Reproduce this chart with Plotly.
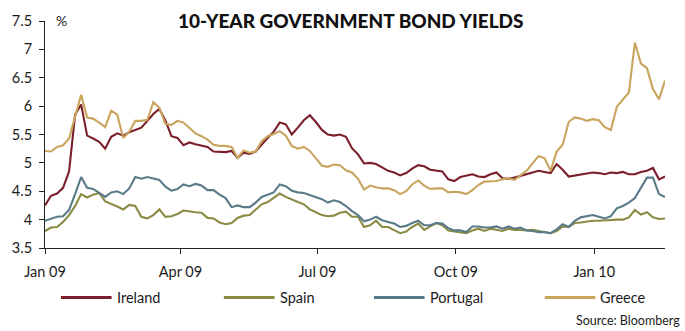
import pandas as pd
import plotly.graph_objects as go

# ---- data (4-day sampling, Jan 1 2009 - Feb 17 2010) ----
dates = pd.date_range("2009-01-01", "2010-02-17", freq="4D")

ireland = [4.25, 4.42, 4.46, 4.56, 4.85, 5.85, 6.03, 5.48, 5.43, 5.37,
           5.25, 5.46, 5.52, 5.48, 5.54, 5.58, 5.62, 5.74, 5.86, 5.95,
           5.75, 5.47, 5.44, 5.31, 5.36, 5.33, 5.30, 5.28, 5.20, 5.19,
           5.19, 5.21, 5.09, 5.18, 5.16, 5.20, 5.33, 5.44, 5.55, 5.71,
           5.68, 5.50, 5.62, 5.75, 5.84, 5.72, 5.58, 5.50, 5.48, 5.50,
           5.46, 5.26, 5.15, 4.99, 5.00, 4.98, 4.92, 4.86, 4.83, 4.78,
           4.82, 4.90, 4.96, 4.94, 4.88, 4.87, 4.85, 4.71, 4.68, 4.75,
           4.78, 4.80, 4.76, 4.75, 4.80, 4.83, 4.73, 4.72, 4.74, 4.77,
           4.80, 4.83, 4.86, 4.84, 4.82, 4.98, 4.88, 4.76, 4.78, 4.79,
           4.81, 4.83, 4.82, 4.80, 4.83, 4.82, 4.84, 4.80, 4.80, 4.84,
           4.86, 4.91, 4.71, 4.76]

spain = [3.80, 3.86, 3.87, 3.96, 4.08, 4.24, 4.45, 4.39, 4.44, 4.47,
         4.32, 4.28, 4.23, 4.18, 4.26, 4.24, 4.05, 4.02, 4.08, 4.18,
         4.05, 4.06, 4.10, 4.16, 4.14, 4.13, 4.12, 4.03, 4.02, 3.95,
         3.92, 3.94, 4.03, 4.07, 4.08, 4.17, 4.27, 4.31, 4.38, 4.46,
         4.40, 4.35, 4.31, 4.27, 4.18, 4.13, 4.08, 4.06, 4.07, 4.12,
         4.14, 4.05, 4.05, 3.87, 3.90, 3.98, 3.87, 3.87, 3.81, 3.76,
         3.79, 3.87, 3.93, 3.82, 3.88, 3.94, 3.90, 3.81, 3.79, 3.77,
         3.76, 3.81, 3.84, 3.80, 3.84, 3.82, 3.80, 3.84, 3.82, 3.82,
         3.81, 3.82, 3.80, 3.78, 3.76, 3.80, 3.88, 3.87, 3.94, 3.95,
         3.97, 3.98, 3.98, 3.99, 4.00, 4.00, 4.00, 4.04, 4.17, 4.09,
         4.13, 4.04, 4.01, 4.02]

portugal = [3.98, 4.02, 4.05, 4.06, 4.17, 4.45, 4.75, 4.56, 4.54, 4.47,
            4.40, 4.48, 4.50, 4.45, 4.55, 4.75, 4.72, 4.75, 4.73, 4.70,
            4.58, 4.51, 4.54, 4.62, 4.59, 4.63, 4.60, 4.52, 4.52, 4.44,
            4.38, 4.22, 4.25, 4.22, 4.22, 4.30, 4.40, 4.44, 4.48, 4.62,
            4.59, 4.51, 4.48, 4.47, 4.43, 4.40, 4.36, 4.30, 4.34, 4.31,
            4.24, 4.15, 4.08, 3.97, 4.00, 4.05, 3.99, 3.96, 3.93, 3.87,
            3.89, 3.94, 3.98, 3.90, 3.90, 3.94, 3.93, 3.85, 3.81, 3.81,
            3.78, 3.88, 3.88, 3.86, 3.86, 3.88, 3.84, 3.88, 3.84, 3.86,
            3.81, 3.80, 3.78, 3.78, 3.76, 3.83, 3.92, 3.87, 3.98, 4.04,
            4.06, 4.08, 4.05, 4.02, 4.06, 4.20, 4.24, 4.30, 4.38, 4.55,
            4.74, 4.74, 4.45, 4.40]

greece = [5.21, 5.20, 5.28, 5.31, 5.43, 5.80, 6.20, 5.80, 5.78, 5.71,
          5.63, 5.92, 5.85, 5.44, 5.55, 5.74, 5.74, 5.76, 6.07, 5.97,
          5.69, 5.67, 5.74, 5.71, 5.62, 5.52, 5.47, 5.41, 5.32, 5.30,
          5.30, 5.28, 5.09, 5.22, 5.18, 5.20, 5.38, 5.47, 5.51, 5.56,
          5.48, 5.30, 5.25, 5.28, 5.21, 5.08, 4.95, 4.93, 4.97, 4.96,
          4.87, 4.83, 4.72, 4.53, 4.60, 4.57, 4.55, 4.55, 4.52, 4.45,
          4.50, 4.62, 4.69, 4.60, 4.54, 4.55, 4.55, 4.48, 4.49, 4.48,
          4.45, 4.52, 4.61, 4.67, 4.67, 4.68, 4.71, 4.73, 4.70, 4.78,
          4.86, 4.99, 5.12, 5.08, 4.86, 5.20, 5.32, 5.72, 5.80, 5.78,
          5.74, 5.77, 5.75, 5.63, 5.58, 5.99, 6.12, 6.24, 7.12, 6.75,
          6.67, 6.30, 6.12, 6.45]

series_names = ["Ireland", "Spain", "Portugal", "Greece"]
series_values = [ireland, spain, portugal, greece]
colors = ["#7A1F2B", "#8B8B45", "#5A7A88", "#C9A45E"]

y_ticks = [3.5, 4, 4.5, 5, 5.5, 6, 6.5, 7, 7.5]
x_ticks = ["2009-01-01", "2009-04-01", "2009-07-01", "2009-10-01", "2010-01-01"]
x_labels = ["Jan 09", "Apr 09", "Jul 09", "Oct 09", "Jan 10"]

# ---- layout geometry ----
W, H = 685, 331
L, R, T, B = 41, 20, 16, 83
pw, ph = W - L - R, H - T - B


def px(x):
    return (x - L) / pw


def py(y):
    return (H - B - y) / ph


FONT = "Lato"
TXT = "#1a1a1a"

fig = go.Figure()
for name, vals, col in zip(series_names, series_values, colors):
    fig.add_trace(go.Scatter(x=dates, y=vals, mode="lines", name=name,
                             line=dict(color=col, width=2.1), showlegend=False))

shapes = []
annotations = []
legend_pos = [57, 221, 372, 544]
for name, col, x0 in zip(series_names, colors, legend_pos):
    shapes.append(dict(type="line", xref="paper", yref="paper",
                       x0=px(x0), x1=px(x0 + 51), y0=py(298.5), y1=py(298.5),
                       line=dict(color=col, width=3)))
    annotations.append(dict(text=name, xref="paper", yref="paper",
                            x=px(x0 + 54), y=py(298.5), xanchor="left", yanchor="middle",
                            showarrow=False, font=dict(family=FONT, size=14.5, color=TXT)))

annotations.append(dict(text="10-YEAR GOVERNMENT BOND YIELDS", xref="paper", yref="paper",
                        x=px(349), y=py(15), xanchor="center", yanchor="middle",
                        showarrow=False,
                        font=dict(family=FONT, size=19, color="#111111", weight=900)))
annotations.append(dict(text="%", xref="paper", yref="paper",
                        x=px(58), y=py(15), xanchor="center", yanchor="middle",
                        showarrow=False, font=dict(family=FONT, size=14, color=TXT)))
annotations.append(dict(text="Source: Bloomberg", xref="paper", yref="paper",
                        x=px(682), y=py(322), xanchor="right", yanchor="middle",
                        showarrow=False, font=dict(family=FONT, size=12.5, color=TXT)))

fig.update_layout(
    width=W, height=H,
    margin=dict(l=L, r=R, t=T, b=B, pad=0),
    paper_bgcolor="white", plot_bgcolor="white",
    shapes=shapes, annotations=annotations,
    font=dict(family=FONT, size=14, color=TXT),
)
fig.update_xaxes(
    range=[dates[0], dates[-1]], tickvals=x_ticks, ticktext=x_labels,
    showgrid=False, zeroline=False, showline=True, linecolor="#222", linewidth=1,
    ticks="outside", ticklen=5, tickcolor="#222", ticklabelstandoff=6,
    tickfont=dict(family=FONT, size=14.5, color=TXT),
)
fig.update_yaxes(
    range=[3.5, 7.5], tickvals=y_ticks,
    showgrid=False, zeroline=False, showline=True, linecolor="#222", linewidth=1,
    ticks="outside", ticklen=5, tickcolor="#222", ticklabelstandoff=4,
    tickfont=dict(family=FONT, size=14.5, color=TXT),
)

fig.write_html("out.html")
